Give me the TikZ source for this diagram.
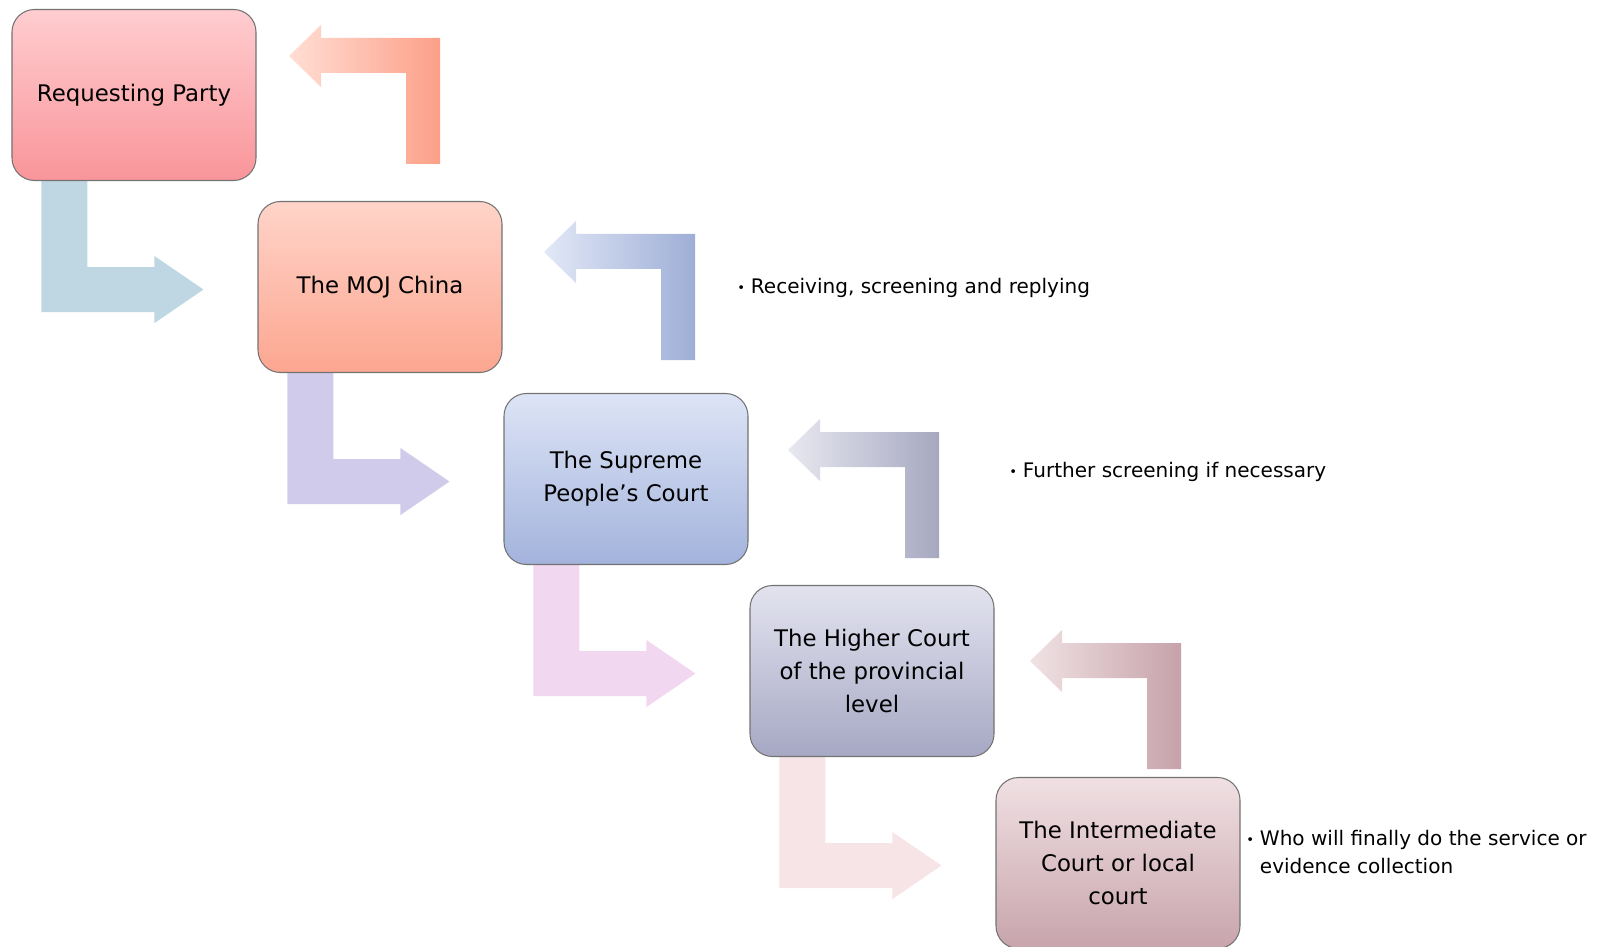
\documentclass[tikz,border=0pt]{standalone}
\usepackage{fontspec}
\setmainfont{DejaVu Sans}
\usepackage{tikz}
\usetikzlibrary{positioning,shapes,calc}
\pgfdeclarelayer{background}
\pgfsetlayers{background,main}

\definecolor{partytop}{HTML}{FFCDD0}
\definecolor{partybot}{HTML}{F9959A}
\definecolor{mojtop}{HTML}{FFD4C9}
\definecolor{mojbot}{HTML}{FCA690}
\definecolor{spctop}{HTML}{DDE4F6}
\definecolor{spcbot}{HTML}{A3B3DC}
\definecolor{highertop}{HTML}{E3E3EF}
\definecolor{higherbot}{HTML}{A6A8C4}
\definecolor{localtop}{HTML}{F0E0E3}
\definecolor{localbot}{HTML}{C8A4AC}
\definecolor{downA}{HTML}{BED7E2}
\definecolor{downB}{HTML}{D1CBEB}
\definecolor{downC}{HTML}{F2D7F0}
\definecolor{downD}{HTML}{F6E4E6}
\definecolor{upAl}{HTML}{FFDED4}
\definecolor{upAr}{HTML}{FCA088}
\definecolor{upBl}{HTML}{E2E8F7}
\definecolor{upBr}{HTML}{9EAED6}
\definecolor{upCl}{HTML}{E8E8F0}
\definecolor{upCr}{HTML}{A6A8C0}
\definecolor{upDl}{HTML}{F0E2E4}
\definecolor{upDr}{HTML}{C6A2AA}

\newcommand{\notedot}{{\fontsize{7.5}{7.5}\selectfont\raisebox{0.4pt}{•}}\kern3.3pt}

\tikzset{
	court/.style={draw=black!55, line width=0.6pt, rounded corners=4.5mm, minimum width=4.88cm, minimum height=3.42cm, align=center, inner sep=2pt, font=\fontsize{13}{18.8}\selectfont},
	note/.style={anchor=west, inner sep=0pt, align=left, font=\fontsize{11.4}{16.3}\selectfont}
}

\begin{document}
\begin{tikzpicture}
		\useasboundingbox (0,0) rectangle (32.12,-18.94);
		\node[court, top color=partytop, bottom color=partybot] (party) at (2.68,-1.90) {Requesting Party};
		\node[court, top color=mojtop, bottom color=mojbot] (moj) at (7.60,-5.74) {The MOJ China};
		\node[court, top color=spctop, bottom color=spcbot] (spc) at (12.52,-9.58) {The Supreme\\People’s Court};
		\node[court, top color=highertop, bottom color=higherbot] (higher) at (17.44,-13.42) {The Higher Court\\of the provincial\\level};
		\node[court, top color=localtop, bottom color=localbot] (local) at (22.36,-17.26) {The Intermediate\\Court or local\\court};
		\begin{pgfonlayer}{background}
			\foreach \src/\col in {party/downA, moj/downB, spc/downC, higher/downD}
				\fill[\col, shift={(\src.south west)}] (0.60,0) -- (1.52,0) -- (1.52,-1.72) -- (2.86,-1.72) -- (2.86,-1.50) -- (3.84,-2.17) -- (2.86,-2.84) -- (2.86,-2.62) -- (0.60,-2.62) -- cycle;
			\foreach \x/\y/\lc/\rc in {8.80/-0.76/upAl/upAr, 13.90/-4.68/upBl/upBr, 18.78/-8.64/upCl/upCr, 23.62/-12.86/upDl/upDr}
				\shade[left color=\lc, right color=\rc, shift={(\x,\y)}] (0,0) -- (0,-2.52) -- (-0.68,-2.52) -- (-0.68,-0.70) -- (-2.38,-0.70) -- (-2.38,-0.98) -- (-3.02,-0.36) -- (-2.38,0.26) -- (-2.38,0) -- cycle;
		\end{pgfonlayer}
		\node[note] (recv) at (14.74,-5.76) {\notedot Receiving, screening and replying};
		\node[note] (further) at (20.18,-9.44) {\notedot Further screening if necessary};
		\node[note] (finally) at (24.92,-17.04) {\notedot Who will finally do the service or\\\hphantom{\notedot}evidence collection};
\end{tikzpicture}
\end{document}
